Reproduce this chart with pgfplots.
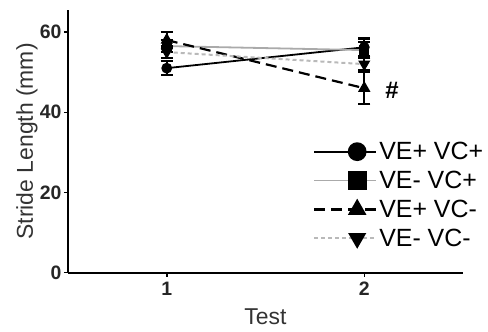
\documentclass[border=0pt]{standalone}
\usepackage{pgfplots}
\pgfplotsset{compat=1.18}
\usepackage{fontspec}
\setmainfont{Liberation Sans}
\definecolor{lgray}{RGB}{170,170,170}
\definecolor{dgray}{RGB}{185,185,185}
\begin{document}
\begin{tikzpicture}
\begin{axis}[
  scale only axis,
  width=395bp, height=262.7bp,
  xmin=0.5, xmax=2.5, ymin=0, ymax=65.5,
  axis x line*=bottom, axis y line*=left,
  axis line style={line width=2.2bp, black},
  xtick={1,2}, ytick={0,20,40,60},
  tick align=outside, major tick length=4bp,
  tick style={line width=1.5bp, black},
  /pgf/number format/assume math mode=true,
  ticklabel style={font=\bfseries\fontsize{19.5}{21}\selectfont, text=black!85},
  xticklabel style={yshift=-2bp},
  yticklabel style={xshift=1bp},
  xlabel={Test}, ylabel={Stride Length (mm)},
  label style={font=\fontsize{23}{26}\selectfont, text=black!80},
  xlabel style={at={(axis description cs:0.5,-0.169)}, anchor=center},
  ylabel style={at={(axis description cs:-0.104,0.5)}, anchor=center},
  legend style={at={(0.62,0.505)}, anchor=north west, draw=none, fill=none,
    font=\fontsize{25}{27}\selectfont, row sep=6bp, inner sep=0pt,
    nodes={inner xsep=2bp}},
  legend cell align=left,
  legend image code/.code={\draw[mark repeat=2,mark phase=2,#1,mark size=8.5bp] plot coordinates {(0bp,0bp) (43bp,0bp) (62bp,0bp)};},
  error bars/y dir=both, error bars/y explicit,
  error bars/error bar style={black, line width=2bp, solid},
  error bars/error mark options={rotate=90, mark size=6bp, line width=2.2bp, black, solid},
]
\addplot[black, line width=1.8bp, mark=*, mark size=4.5bp, mark options={solid, fill=black}]
  table[x=x, y=y, y error=e] {
x y e
1 51 1.8
2 56.2 2.2
};
\addlegendentry{VE+ VC+}
\addplot[lgray, line width=1.8bp, mark=square*, mark size=4.2bp, mark options={solid, fill=black, draw=black}]
  table[x=x, y=y, y error=e] {
x y e
1 56.5 1.5
2 55.5 2
};
\addlegendentry{VE- VC+}
\addplot[black, line width=2.2bp, dash pattern=on 11bp off 6bp, mark=triangle*, mark size=5bp, mark options={solid, fill=black}]
  table[x=x, y=y, y error=e] {
x y e
1 58 2
2 46 4
};
\addlegendentry{VE+ VC-}
\addplot[dgray, line width=2bp, dash pattern=on 4bp off 3bp, mark=triangle*, mark size=5bp, mark options={solid, fill=black, draw=black, rotate=180}]
  table[x=x, y=y, y error=e] {
x y e
1 55 1.5
2 52 1.5
};
\addlegendentry{VE- VC-}
\node[font=\bfseries\fontsize{24}{26}\selectfont, anchor=center] at (axis cs:2.14,45.5) {\#};
\end{axis}
\pgfresetboundingbox
\useasboundingbox (-68bp,-59.3bp) rectangle (420bp,272.7bp);
\end{tikzpicture}
\end{document}
